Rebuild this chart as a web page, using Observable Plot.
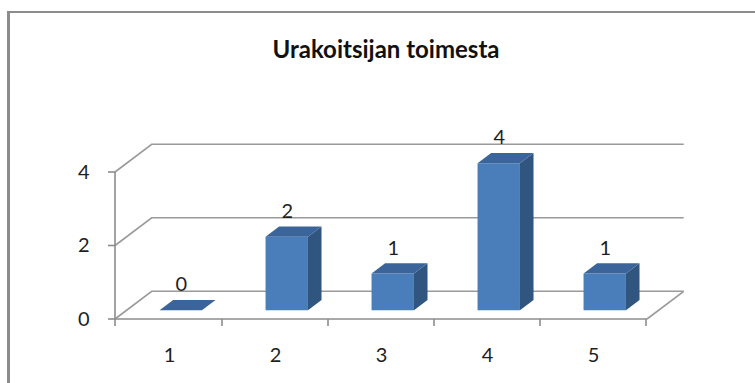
<!DOCTYPE html>
<html>
<head>
<meta charset="utf-8">
<script src="https://cdn.jsdelivr.net/npm/d3@7"></script>
<script src="https://cdn.jsdelivr.net/npm/@observablehq/plot@0.6"></script>
<style>
  body { margin: 0; background: #fff; }
  #chart { position: relative; width: 755px; height: 383px; overflow: hidden; font-family: Lato, "Open Sans", sans-serif; }
  #frame { position: absolute; left: 7px; top: 11px; width: 900px; height: 500px;
           border-left: 3px solid #8c8c8c; border-top: 2px solid #8c8c8c; }
  #title { position: absolute; left: 0; width: 772px; top: 37px; margin: 0; text-align: center;
           font: 700 24px/24px Lato, "Open Sans", sans-serif; color: #111; }
  #plot { position: absolute; left: 0; top: 80px; }
</style>
</head>
<body>
<div id="chart">
  <div id="frame"></div>
  <h2 id="title"></h2>
  <div id="plot"></div>
</div>
<script>
// Chart content
const title = "Urakoitsijan toimesta";
const categories = ["1", "2", "3", "4", "5"];
const counts = [0, 2, 1, 4, 1];
const yDomain = [0, 4];

const rows = categories.map((category, i) => ({category, count: counts[i]}));

// 3-D look: depth vector of the floor/walls (px) and the bar slab within it
const DEPTH = [36.7, -27.7];
const FRONT = 0.32, BACK = 0.69;   // bar front / back as a fraction of the depth
const BAR = 0.4;                    // bar width as a fraction of the band
const GRID = "#9a9a9a", AXIS = "#8c8c8c";
const FACE = "#4a7ebb", SIDE = "#30557f", TOP = "#3b659a";

document.getElementById("title").textContent = title;

// Walls, floor, axis lines and the 3-D columns, positioned by the plot's scales
function scene(index, scales) {
  const {x, y} = scales;
  const bw = x.bandwidth();
  const [dx, dy] = DEPTH;
  const [x0, x1] = x.range();
  const y0 = y(0);
  const ticks = y.ticks(2);
  const g = d3.create("svg:g");
  const pts = (a) => a.map(p => p.join(",")).join(" ");

  const grid = g.append("g").attr("fill", "none").attr("stroke", GRID).attr("stroke-width", 1.6);
  for (const t of ticks) {
    const yt = y(t);
    grid.append("polyline").attr("points", pts([[x0, yt], [x0 + dx, yt + dy], [x1 + dx, yt + dy]]));
  }
  grid.append("line").attr("x1", x1).attr("y1", y0).attr("x2", x1 + dx).attr("y2", y0 + dy);

  const bars = g.append("g");
  for (const d of rows) {
    const L = x(d.category) + bw * (1 - BAR) / 2, R = L + bw * BAR;
    const yv = y(d.count);
    const at = (px, py, f) => [px + f * dx, py + f * dy];
    if (d.count > 0) {
      bars.append("polygon").attr("fill", FACE)
        .attr("points", pts([at(L, yv, FRONT), at(R, yv, FRONT), at(R, y0, FRONT), at(L, y0, FRONT)]));
      bars.append("polygon").attr("fill", SIDE)
        .attr("points", pts([at(R, yv, FRONT), at(R, yv, BACK), at(R, y0, BACK), at(R, y0, FRONT)]));
      bars.append("polygon").attr("fill", TOP)
        .attr("points", pts([at(L, yv, FRONT), at(R, yv, FRONT), at(R, yv, BACK), at(L, yv, BACK)]));
    } else {
      bars.append("polygon").attr("fill", TOP)
        .attr("points", pts([at(L, y0, FRONT), at(R, y0, FRONT), at(R, y0, BACK), at(L, y0, BACK)]));
    }
  }

  const axis = g.append("g").attr("stroke", AXIS).attr("stroke-width", 1.6).attr("fill", "none");
  axis.append("line").attr("x1", x0).attr("x2", x0).attr("y1", y(d3.max(ticks))).attr("y2", y0 + 7);
  axis.append("line").attr("x1", x0).attr("x2", x1).attr("y1", y0).attr("y2", y0);
  for (const t of ticks) {
    axis.append("line").attr("x1", x0 - 7).attr("x2", x0).attr("y1", y(t)).attr("y2", y(t));
  }
  for (const c of categories) {
    const xb = x(c) + bw;
    axis.append("line").attr("x1", xb).attr("x2", xb).attr("y1", y0).attr("y2", y0 + 7);
  }
  return g.node();
}

const chart = Plot.plot({
  width: 755,
  height: 303,
  marginLeft: 115,
  marginRight: 108,
  marginTop: 92,
  marginBottom: 64,
  style: {fontFamily: "Lato, 'Open Sans', sans-serif", fontSize: "20px", color: "#1e1e1e", background: "transparent", overflow: "visible"},
  x: {type: "band", domain: categories, padding: 0, tickSize: 0, tickPadding: 28, label: null},
  y: {domain: yDomain, ticks: 2, tickSize: 0, tickPadding: 26, label: null},
  marks: [
    scene,
    Plot.text(rows, {
      x: "category", y: "count", text: d => String(d.count),
      dx: FRONT * DEPTH[0], dy: FRONT * DEPTH[1] - 25.6,
      fontSize: 20, fill: "#1e1e1e"
    })
  ]
});
document.getElementById("plot").append(chart);
</script>
</body>
</html>
